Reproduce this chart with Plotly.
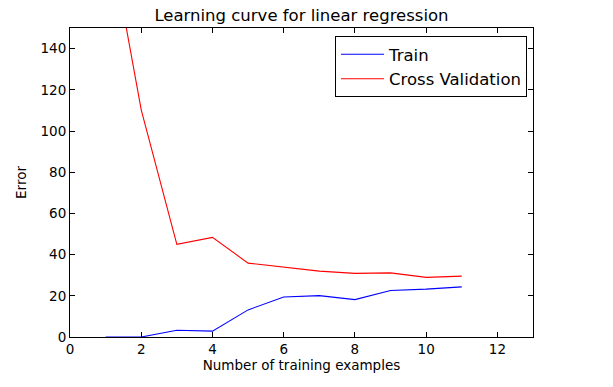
import plotly.graph_objects as go

m = [1, 2, 3, 4, 5, 6, 7, 8, 9, 10, 11]
train_err = [0.0, 0.0, 3.287, 2.842, 13.154, 19.443, 20.098, 18.172, 22.609, 23.261, 24.317]
cv_err = [205.121, 110.300, 45.010, 48.369, 35.865, 33.830, 31.971, 30.862, 31.136, 28.936, 29.551]

fig = go.Figure()
fig.add_trace(go.Scatter(x=m, y=train_err, mode="lines", name="Train",
                         line=dict(color="blue", width=1.1)))
fig.add_trace(go.Scatter(x=m, y=cv_err, mode="lines", name="Cross Validation",
                         line=dict(color="red", width=1.1)))

axis_common = dict(showgrid=False, zeroline=False, showline=True, linecolor="black",
                   linewidth=1, mirror="ticks", ticks="inside", ticklen=5,
                   tickcolor="black", tickfont=dict(size=13.5, color="black"))

fig.update_layout(
    width=613, height=387,
    paper_bgcolor="white", plot_bgcolor="white",
    margin=dict(l=70, r=80, t=28, b=50),
    font=dict(family="DejaVu Sans", color="black"),
    title=dict(text="Learning curve for linear regression", x=0.5, xref="paper",
               y=1 - 15 / 387, yanchor="middle", font=dict(size=16.5)),
    xaxis=dict(range=[0, 13], dtick=2,
               title=dict(text="Number of training examples", font=dict(size=13.5), standoff=2),
               **axis_common),
    yaxis=dict(range=[0, 150], dtick=20,
               title=dict(text="Error", font=dict(size=13.5), standoff=10),
               **axis_common),
    showlegend=True,
    legend=dict(x=(527 - 70) / 463, y=(337 - 36) / 309, xanchor="right", yanchor="top",
                bordercolor="black", borderwidth=1, bgcolor="white",
                font=dict(size=16.5), itemwidth=43, tracegroupgap=0),
)

fig.write_html("out.html", config={"displayModeBar": False},
               post_script="document.body.style.margin='0px';")
